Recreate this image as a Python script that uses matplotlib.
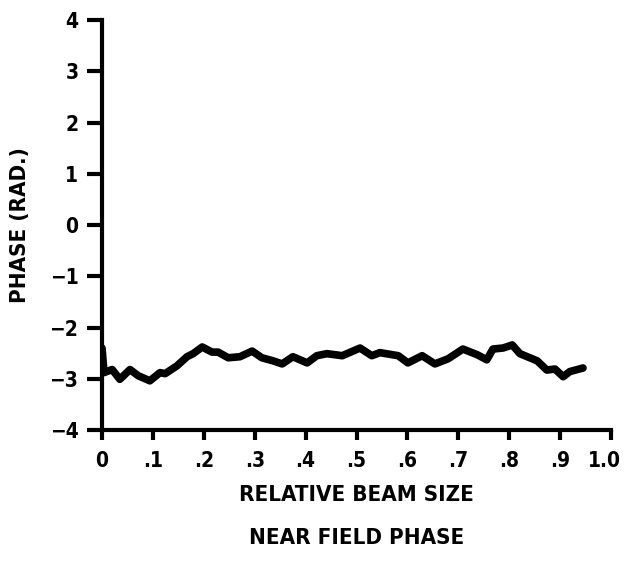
import matplotlib.pyplot as plt
from matplotlib.transforms import ScaledTranslation

# near field phase trace
beam_size = [0.000, 0.004, 0.020, 0.035, 0.055, 0.071, 0.094, 0.114, 0.124, 0.147,
             0.167, 0.179, 0.197, 0.216, 0.228, 0.248, 0.271, 0.295, 0.314, 0.336,
             0.354, 0.375, 0.403, 0.422, 0.442, 0.472, 0.507, 0.530, 0.546, 0.582,
             0.601, 0.629, 0.654, 0.680, 0.709, 0.737, 0.756, 0.768, 0.788, 0.806,
             0.821, 0.855, 0.874, 0.890, 0.906, 0.919, 0.945]
phase = [-2.40, -2.88, -2.82, -3.01, -2.82, -2.94, -3.04, -2.88, -2.90, -2.75,
         -2.57, -2.51, -2.38, -2.48, -2.48, -2.59, -2.57, -2.46, -2.59, -2.65,
         -2.71, -2.57, -2.69, -2.55, -2.51, -2.55, -2.40, -2.55, -2.49, -2.55,
         -2.69, -2.55, -2.71, -2.61, -2.42, -2.53, -2.63, -2.42, -2.40, -2.34,
         -2.51, -2.65, -2.83, -2.81, -2.96, -2.86, -2.79]

x_ticks = [0, 0.1, 0.2, 0.3, 0.4, 0.5, 0.6, 0.7, 0.8, 0.9, 1.0]
x_labels = ['0', '.1', '.2', '.3', '.4', '.5', '.6', '.7', '.8', '.9', '1.0']
y_ticks = [4, 3, 2, 1, 0, -1, -2, -3, -4]
y_labels = ['4', '3', '2', '1', '0', '\u22121', '\u22122', '\u22123', '\u22124']

plt.rcParams['font.family'] = ['DejaVu Sans']
plt.rcParams['font.stretch'] = 'condensed'
plt.rcParams['font.weight'] = 'bold'

fig = plt.figure(figsize=(6.25, 5.65), dpi=100)
ax = fig.add_axes([0.1632, 0.2389, 0.8144, 0.7257])

ax.plot(beam_size, phase, color='black', linewidth=5.5, solid_capstyle='round',
        solid_joinstyle='round')

ax.set_xlim(0, 1.0)
ax.set_ylim(-4, 4)

ax.spines['top'].set_visible(False)
ax.spines['right'].set_visible(False)
for s in ['left', 'bottom']:
    ax.spines[s].set_linewidth(3)
ax.tick_params(axis='x', direction='out', length=7, width=3, pad=8)
ax.tick_params(axis='y', direction='out', length=11, width=3, pad=6)

ax.set_xticks(x_ticks)
ax.set_xticklabels(x_labels, fontsize=15, fontweight='bold')
ax.set_yticks(y_ticks)
ax.set_yticklabels(y_labels, fontsize=15, fontweight='bold')

# keep "1.0" inside the figure edge
last = ax.xaxis.get_major_ticks()[-1].label1
last.set_transform(last.get_transform() + ScaledTranslation(-5/72, 0, fig.dpi_scale_trans))

ax.set_ylabel('PHASE (RAD.)', fontsize=16, fontweight='bold', labelpad=14)
ax.set_xlabel('RELATIVE BEAM SIZE', fontsize=16, fontweight='bold', labelpad=10)
fig.text(0.57, 0.047, 'NEAR FIELD PHASE', fontsize=16, fontweight='bold',
         ha='center', va='center')

fig.savefig('out.png', dpi=100)
